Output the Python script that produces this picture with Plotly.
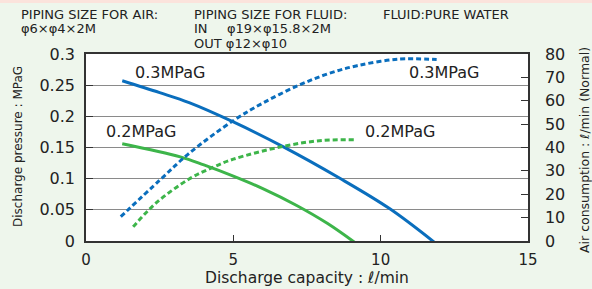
import plotly.graph_objects as go

# Discharge pressure curves (MPa) vs discharge capacity (l/min)
flow_p03 = [1.23, 2.5, 3.5, 5.0, 6.7, 8.6, 10.3, 11.9]
pres_p03 = [0.257, 0.238, 0.222, 0.191, 0.151, 0.101, 0.052, -0.005]

flow_p02 = [1.23, 3.2, 4.0, 5.0, 6.0, 7.15, 8.2, 9.2]
pres_p02 = [0.156, 0.135, 0.122, 0.104, 0.084, 0.057, 0.028, -0.005]

# Air consumption curves (l/min Normal) vs discharge capacity
air_flow_03 = [1.18, 2.5, 3.5, 5.0, 6.0, 7.2, 8.2, 9.2, 10.6, 11.9]
air_03 = [10.4, 26.0, 37.5, 51.5, 59.0, 66.5, 71.5, 75.0, 77.8, 77.6]

air_flow_02 = [1.6, 2.4, 3.5, 4.3, 5.0, 6.7, 8.0, 9.1]
air_02 = [6.1, 16.5, 26.5, 31.5, 35.0, 40.5, 43.0, 43.3]

x_ticks = [0, 5, 10, 15]
y_ticks = [0, 0.05, 0.1, 0.15, 0.2, 0.25, 0.3]
y_tick_text = ["0", "0.05", "0.1", "0.15", "0.2", "0.25", "0.3"]
y2_ticks = [0, 10, 20, 30, 40, 50, 60, 70, 80]

BLUE = "#0a6ebd"
GREEN = "#3db54a"
FONT = "DejaVu Sans"
TXT = "#222222"

W, H = 592, 289
L, R, T, B = 86, 64, 54, 48
pw, ph = W - L - R, H - T - B


def px(xp):
    return (xp - L) / pw


def py(yp):
    return (H - B - yp) / ph


fig = go.Figure()
fig.add_trace(go.Scatter(x=flow_p03, y=pres_p03, mode="lines", line=dict(color=BLUE, width=3, shape="spline"), showlegend=False))
fig.add_trace(go.Scatter(x=flow_p02, y=pres_p02, mode="lines", line=dict(color=GREEN, width=3, shape="spline"), showlegend=False))
fig.add_trace(go.Scatter(x=air_flow_03, y=air_03, mode="lines", yaxis="y2", line=dict(color=BLUE, width=3, shape="spline", dash="5px,3px"), showlegend=False))
fig.add_trace(go.Scatter(x=air_flow_02, y=air_02, mode="lines", yaxis="y2", line=dict(color=GREEN, width=3, shape="spline", dash="5px,3px"), showlegend=False))

labels = [(1.6, 0.27, "0.3MPaG"), (10.9, 0.27, "0.3MPaG"), (0.62, 0.175, "0.2MPaG"), (9.4, 0.175, "0.2MPaG")]
for lx, ly, lt in labels:
    fig.add_annotation(x=lx, y=ly, text=lt, showarrow=False, xanchor="left", yanchor="middle",
                       font=dict(family=FONT, size=16, color=TXT))

header = [
    (19, 14, "PIPING SIZE FOR AIR:"),
    (19, 29, "φ6×φ4×2M"),
    (192, 14, "PIPING SIZE FOR FLUID:"),
    (192, 29, "IN"),
    (225, 29, "φ19×φ15.8×2M"),
    (192, 43, "OUT φ12×φ10"),
    (381, 14, "FLUID:PURE WATER"),
]
for hx, hy, ht in header:
    fig.add_annotation(x=px(hx), y=py(hy), xref="paper", yref="paper", text=ht,
                       showarrow=False, xanchor="left", yanchor="middle",
                       font=dict(family=FONT, size=13, color=TXT))

# axis titles
fig.add_annotation(x=px(307), y=py(278), xref="paper", yref="paper", text="Discharge capacity : ℓ/min",
                   showarrow=False, xanchor="center", yanchor="middle", font=dict(family=FONT, size=15.5, color=TXT))
fig.add_annotation(x=px(18), y=py(147), xref="paper", yref="paper", text="Discharge pressure : MPaG",
                   showarrow=False, xanchor="center", yanchor="middle", textangle=-90,
                   font=dict(family=FONT, size=12, color=TXT))
fig.add_annotation(x=px(584), y=py(150), xref="paper", yref="paper", text="Air consumption : ℓ/min (Normal)",
                   showarrow=False, xanchor="center", yanchor="middle", textangle=-90,
                   font=dict(family=FONT, size=12.5, color=TXT))

# pink strip at top
fig.add_shape(type="rect", xref="paper", yref="paper", x0=px(0), x1=px(W),
              y0=py(3), y1=py(0), fillcolor="#fbe3dc", line=dict(width=0), layer="below")

fig.update_layout(
    width=W, height=H,
    margin=dict(l=L, r=R, t=T, b=B, autoexpand=False),
    paper_bgcolor="#eef6ec",
    plot_bgcolor="white",
    font=dict(family=FONT, color=TXT),
    xaxis=dict(range=[0, 15], tickvals=x_ticks, ticks="inside", ticklen=6, tickcolor="#333",
               showline=True, linecolor="#333", linewidth=1.5, mirror=True, showgrid=False, zeroline=False,
               automargin=False, ticklabelstandoff=4,
               tickfont=dict(size=15, family=FONT, color=TXT)),
    yaxis=dict(range=[0, 0.3], tickvals=y_ticks, ticktext=y_tick_text, ticks="inside", ticklen=7, tickcolor="#333",
               showline=True, linecolor="#333", linewidth=1.5, showgrid=True, gridcolor="#8a8a8a", gridwidth=1,
               zeroline=False, automargin=False, ticklabelstandoff=6,
               tickfont=dict(size=16, family=FONT, color=TXT)),
    yaxis2=dict(range=[0, 80], tickvals=y2_ticks, overlaying="y", side="right", ticks="inside", ticklen=7,
                tickcolor="#333", showline=True, linecolor="#333", linewidth=1.5, showgrid=False, zeroline=False,
                automargin=False, ticklabelstandoff=12,
                tickfont=dict(size=16, family=FONT, color=TXT)),
)

fig.write_html("out.html", config={"displayModeBar": False},
               post_script="document.body.style.margin='0px';document.body.style.overflow='hidden';")
